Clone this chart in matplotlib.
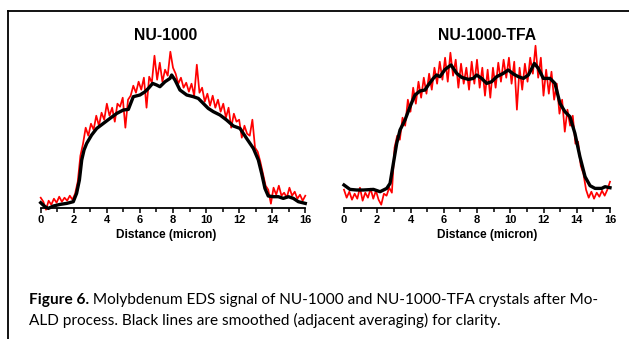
import numpy as np
from matplotlib import pyplot as plt
from matplotlib.lines import Line2D
from matplotlib.ticker import MultipleLocator

# distance axis (micron), both scans sampled on the same grid
distance_raw = np.linspace(0, 16, 101)

# NU-1000 raw Mo signal (arb. units)
nu1000_raw = [
    10, 6, -2, 7, 3, 9, 5, 11, 6, 10, 7, 12, 8, 14, 26, 52, 64, 80, 72, 84,
    78, 92, 82, 95, 88, 104, 92, 100, 86, 104, 101, 110, 80, 108, 112, 122, 115, 126, 118, 130,
    100, 131, 125, 152, 128, 145, 126, 138, 132, 156, 140, 134, 124, 130, 120, 125, 116, 124, 112, 143,
    115, 120, 106, 114, 102, 112, 100, 108, 96, 104, 90, 100, 80, 94, 86, 88, 70, 82, 74, 72,
    88, 60, 56, 46, 34, 22, 18, 4, 20, 13, 22, 12, 15, 10, 20, 12, 16, 9, 13, 7,
    12,
]

# NU-1000-TFA raw Mo signal
tfa_raw = [
    18, 10, 16, 8, 14, 9, 20, 7, 15, 10, 19, 9, 17, 8, 3, 14, 12, 20, 15, 60,
    72, 68, 90, 82, 108, 96, 120, 104, 126, 110, 130, 114, 134, 118, 140, 124, 146, 128, 150, 126,
    155, 132, 148, 120, 144, 124, 140, 118, 146, 124, 148, 120, 140, 112, 138, 110, 140, 120, 145, 126,
    148, 130, 150, 124, 146, 98, 140, 118, 144, 126, 150, 134, 162, 130, 150, 112, 138, 114, 136, 108,
    124, 94, 108, 76, 98, 82, 92, 64, 66, 42, 34, 18, 10, 16, 9, 15, 11, 17, 12, 18,
    26,
]

# smoothed (adjacent averaging) curves
nu1000_smooth_x = [
    0, 0.26, 0.46, 0.77, 1.17, 1.57, 1.97, 2.17, 2.34, 2.48, 2.62, 2.78, 3.08, 3.39, 3.79,
    4.19, 4.60, 5.0, 5.3, 5.6, 6.0, 6.31, 6.51, 6.77, 7.01, 7.21, 7.52, 7.82, 7.92, 8.12,
    8.42, 8.83, 9.23, 9.53, 9.83, 10.13, 10.44, 10.84, 11.24, 11.65, 12.05, 12.45, 12.86, 13.16,
    13.36, 13.56, 13.76, 14.07, 14.37, 14.67, 14.98, 15.28, 15.58, 16,
]
nu1000_smooth = [
    5, 1, -0.7, 1.7, 3.3, 4.3, 6, 14.3, 27.7, 47.7, 57.7, 64.3, 72.7, 79.3, 84.3,
    89.3, 94.3, 97.7, 98.3, 111, 112.7, 116, 119.3, 124.3, 122.7, 121, 126, 129.3, 132.7, 127.7,
    117.7, 112.7, 111, 109.3, 104.3, 99.3, 96, 92.7, 87.7, 81.7, 79.3, 69.3, 59.3, 47.7,
    34.3, 19.3, 11.7, 11, 11, 9.3, 11, 9.3, 6, 4.3,
]

tfa_smooth_x = [
    0, 0.36, 0.76, 1.16, 1.77, 2.17, 2.57, 2.77, 2.97, 3.17, 3.37, 3.67, 3.97, 4.27, 4.57,
    4.87, 5.07, 5.37, 5.57, 5.77, 6.08, 6.44, 6.78, 7.08, 7.48, 7.78, 7.98, 8.28, 8.58, 8.88,
    9.18, 9.58, 9.88, 10.19, 10.49, 10.79, 11.09, 11.45, 11.69, 11.99, 12.39, 12.69, 12.99, 13.29,
    13.59, 13.89, 14.19, 14.50, 14.80, 15.10, 15.50, 15.70, 16,
]
tfa_smooth = [
    22.7, 18.3, 17.7, 17.7, 18.3, 16, 19.3, 24.3, 44.3, 64.3, 77.7, 87.7, 101, 112.7, 116.7,
    117.7, 122.7, 129.3, 132.7, 131, 138.3, 142.7, 134.3, 130.3, 128.3, 129.3, 132.7, 129.3, 124.3, 126,
    131, 134.3, 137.7, 133.7, 131, 129.3, 132.7, 144.3, 139.3, 129.3, 129.3, 124.3, 104.3, 96,
    91, 74.3, 51, 31, 22, 19.3, 19.3, 21, 20,
]

titles = ["NU-1000", "NU-1000-TFA"]
xlabel = "Distance (micron)"
caption_bold = "Figure 6."
caption_line1 = " Molybdenum EDS signal of NU-1000 and NU-1000-TFA crystals after Mo-"
caption_line2 = "ALD process. Black lines are smoothed (adjacent averaging) for clarity."

W, H = 629, 339
fig = plt.figure(figsize=(W / 100, H / 100), dpi=100)
plt.rcParams['font.family'] = ['Liberation Sans', 'DejaVu Sans']


def px(x, y):
    return x / W, 1 - y / H


panels = [
    (40.7, 305.3, 166, nu1000_raw, nu1000_smooth_x, nu1000_smooth),
    (344.0, 610.0, 487, tfa_raw, tfa_smooth_x, tfa_smooth),
]
top, bottom = 45.0, 207.7

for (x0, x1, xc, raw, sx, sy), title in zip(panels, titles):
    ax = fig.add_axes([x0 / W, 1 - bottom / H, (x1 - x0) / W, (bottom - top) / H])
    ax.plot(distance_raw, raw, color='#ff0000', lw=1.25, clip_on=False)
    ax.plot(sx, sy, color='black', lw=2.4, clip_on=False, solid_joinstyle='round')
    ax.set_xlim(0, 16)
    ax.set_ylim(0, 162.7)
    for s in ['top', 'right', 'left']:
        ax.spines[s].set_visible(False)
    ax.spines['bottom'].set_linewidth(1.3)
    ax.set_yticks([])
    ax.xaxis.set_major_locator(MultipleLocator(2))
    ax.xaxis.set_minor_locator(MultipleLocator(1))
    ax.tick_params(axis='x', which='major', direction='out', length=3.5, width=1.1,
                   labelsize=8, pad=1.5)
    ax.tick_params(axis='x', which='minor', direction='out', length=3, width=1.1)
    for lab in ax.get_xticklabels():
        lab.set_fontweight('bold')
    ax.patch.set_visible(False)
    fig.text(*px(xc, 35), title, ha='center', va='center', fontsize=11.3, fontweight='bold')
    fig.text(*px(xc, 235), xlabel, ha='center', va='center', fontsize=8.6, fontweight='bold')

# frame round the figure (right and bottom edges run off the image)
fig.add_artist(Line2D([8 / W, 1.01], [1 - 11 / H, 1 - 11 / H], color='black', lw=1.3))
fig.add_artist(Line2D([8 / W, 8 / W], [1 - 11 / H, -0.01], color='black', lw=1.3))

cap_font = dict(family=['Lato', 'DejaVu Sans'], fontsize=11.1, va='center', color='black')
t1 = fig.text(*px(29, 300), caption_bold, fontweight='bold', **cap_font)
fig.canvas.draw()
ext = t1.get_window_extent()
fig.text(ext.x1 / W, 1 - 300 / H, caption_line1, **cap_font)
fig.text(*px(29, 320), caption_line2, **cap_font)

fig.savefig("out.png", dpi=100)
